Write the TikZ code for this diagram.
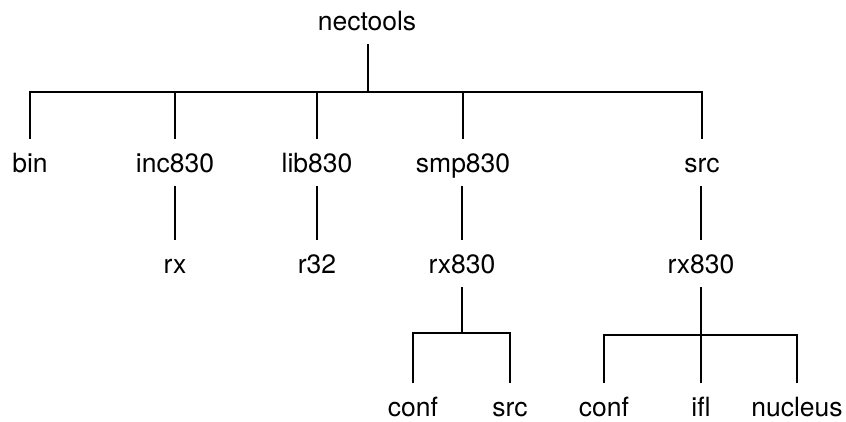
\documentclass[tikz,border=0pt]{standalone}
\usepackage{fontspec}
\setmainfont{TeX Gyre Heros}
\begin{document}
\begin{tikzpicture}[x=1pt,y=-1pt,
  tnode/.style={font=\fontsize{26.5}{30}\selectfont, inner sep=0pt, text height=19pt, text depth=0pt, outer ysep=14pt, anchor=base},
  conn/.style={draw=black, line width=2.4pt}]
\useasboundingbox (0,0) rectangle (846,421);
% nodes
\node[tnode] (nectools) at (367,30) {nectools};
\node[tnode] (bin) at (30,172) {bin};
\node[tnode] (inc830) at (175,172) {inc830};
\node[tnode] (lib830) at (317,172) {lib830};
\node[tnode] (smp830) at (463,172) {smp830};
\node[tnode] (src) at (702,172) {src};
\node[tnode] (rx) at (175,273) {rx};
\node[tnode] (r32) at (317,273) {r32};
\node[tnode] (rxa) at (462,273) {rx830};
\node[tnode] (rxb) at (701,273) {rx830};
\node[tnode] (confa) at (413,416) {conf};
\node[tnode] (srca) at (510,416) {src};
\node[tnode] (confb) at (604,416) {conf};
\node[tnode] (ifl) at (701,416) {ifl};
\node[tnode] (nucleus) at (797,416) {nucleus};
% junctions
\coordinate (j0) at (368,92);
\coordinate (j1) at (462,333);
\coordinate (j2) at (701,335);
% connectors
\draw[conn] (nectools.south -| j0) -- (j0);
\draw[conn] (bin.north) |- (j0) -| (src.north);
\draw[conn] (inc830.north) -- (inc830.north |- j0);
\draw[conn] (lib830.north) -- (lib830.north |- j0);
\draw[conn] (smp830.north) -- (smp830.north |- j0);
\draw[conn] (inc830.south) -- (rx.north);
\draw[conn] (lib830.south) -- (r32.north);
\draw[conn] (smp830.south -| rxa) -- (rxa.north);
\draw[conn] (src.south -| rxb) -- (rxb.north);
\draw[conn] (rxa.south) -- (j1);
\draw[conn] (confa.north) |- (j1) -| (srca.north);
\draw[conn] (rxb.south) -- (j2);
\draw[conn] (confb.north) |- (j2) -| (nucleus.north);
\draw[conn] (ifl.north) -- (j2);
\end{tikzpicture}
\end{document}
